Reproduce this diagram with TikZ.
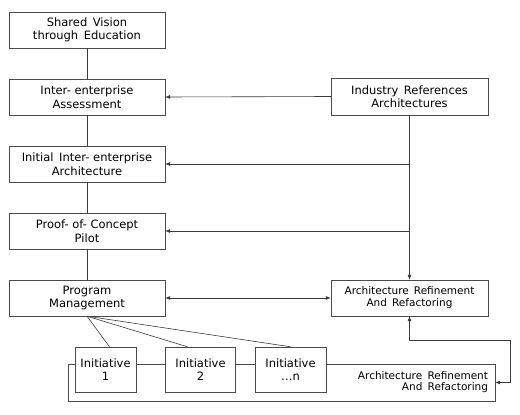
\documentclass[tikz,border=0pt]{standalone}
\usepackage{fontspec}
\setmainfont{DejaVu Sans}
\usepackage{xcolor}
\usepackage{tikz}
\usetikzlibrary{positioning, arrows.meta, calc}
\definecolor{lineclr}{HTML}{3A3A3A}
\definecolor{boxclr}{HTML}{4A4A4A}
\tikzset{
  stagebox/.style={draw=boxclr, fill=white, align=center, minimum width=156pt,
    minimum height=36pt, inner sep=1pt, font=\fontsize{11.5}{13.5}\selectfont},
  initbox/.style={stagebox, minimum width=62pt, minimum height=45pt},
  link/.style={draw=lineclr, line width=0.6pt},
  flow/.style={link, -{Latex[length=5pt, width=4pt]}},
  biflow/.style={link, {Latex[length=5pt, width=4pt]}-{Latex[length=5pt, width=4pt]}}
}

\begin{document}
\begin{tikzpicture}[x=1pt, y=-1pt]
    \useasboundingbox (0,0) rectangle (520,415);
    % left column
    \node[stagebox] (vision) at (87,30) {Shared\, Vision\\through\, Education};
    \node[stagebox] (assess) at (87,97) {Inter- enterprise\\Assessment};
    \node[stagebox] (initarch) at (87,164) {Initial\, Inter- enterprise\\Architecture};
    \node[stagebox] (poc) at (87,231) {Proof- of- Concept\\Pilot};
    \node[stagebox] (progmgmt) at (87,298) {Program\\Management};
    % right column
    \node[stagebox, minimum width=157pt, minimum height=37pt] (industry) at (409.5,96.5) {Industry\, References\\Architectures};
    \node[stagebox, minimum width=157pt, font=\fontsize{10.5}{12}\selectfont] (refine) at (409.5,298) {Architecture\, Refinement\\And\, Refactoring};
    % initiatives loop
    \node[draw=boxclr, align=right, text width=413pt, inner xsep=7pt, inner ysep=0pt,
          minimum height=37pt, font=\fontsize{10.5}{11}\selectfont] (refloop) at (281.5,382.5)
          {Architecture\, Refinement\\And\, Refactoring};
    \node[initbox, minimum width=61pt] (init1) at (105.5,369.5) {Initiative\\1};
    \node[initbox, minimum width=70pt] (init2) at (200.5,369.5) {Initiative\\2};
    \node[initbox, minimum width=71pt] (initn) at (290.5,369.5) {Initiative\\…n};
    \coordinate (bend) at (510,340);

    \draw[link] (vision) -- (assess);
    \draw[link] (assess) -- (initarch);
    \draw[link] (initarch) -- (poc);
    \draw[link] (poc) -- (progmgmt);

    \draw[flow] (industry.west) -- (assess.east);
    \draw[flow] (industry.south) -- (refine.north);
    \draw[flow] (industry.south |- initarch.east) -- (initarch.east);
    \draw[flow] (industry.south |- poc.east) -- (poc.east);
    \draw[biflow] (progmgmt.east) -- (refine.west);

    \draw[link] (progmgmt.south) -- ([xshift=4pt]init1.north);
    \draw[link] (progmgmt.south) -- ([xshift=-13pt]init2.north);
    \draw[link] (progmgmt.south) -- (initn.north);

    \draw[biflow] (refine.south) -- (refine.south |- bend) -- (bend) |- (refloop.east);
  \end{tikzpicture}
\end{document}
